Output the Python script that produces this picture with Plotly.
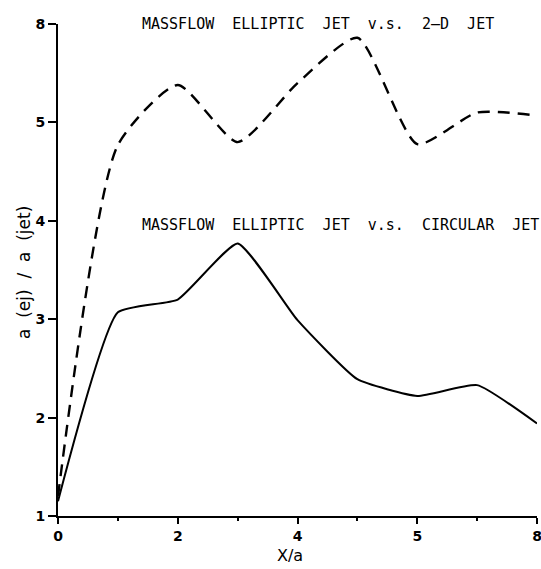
import plotly.graph_objects as go

# Distance downstream, X/a
x_pos = [0, 1, 2, 3, 4, 5, 6, 7, 8]

# Mass-flow ratio, elliptic jet vs 2-D jet (dashed)
ratio_2d = [1.2, 4.77, 5.38, 4.80, 5.40, 5.86, 4.78, 5.10, 5.07]

# Mass-flow ratio, elliptic jet vs circular jet (solid)
ratio_circ = [1.15, 3.07, 3.20, 3.77, 2.99, 2.39, 2.22, 2.33, 1.94]

x_tickvals = [0, 2, 4, 6, 8]
x_ticktext = ["0", "2", "4", "5", "8"]
y_tickvals = [1, 2, 3, 4, 5, 6]
y_ticktext = ["1", "2", "3", "4", "5", "8"]

sp = "&nbsp; "
label_2d = sp.join(["MASSFLOW", "ELLIPTIC", "JET", "v.s.", "2\u2013D", "JET"])
label_circ = sp.join(["MASSFLOW", "ELLIPTIC", "JET", "v.s.", "CIRCULAR", "JET"])
y_title = sp.join(["a", "(ej)", "/", "a", "(jet)"])

font_main = "DejaVu Sans, Verdana, sans-serif"
font_label = "DejaVu Sans Mono, monospace"

fig = go.Figure()
fig.add_trace(go.Scatter(
    x=x_pos, y=ratio_2d, mode="lines",
    line=dict(color="black", width=2.4, dash="12px,8px", shape="spline", smoothing=0.6),
    showlegend=False, cliponaxis=False,
))
fig.add_trace(go.Scatter(
    x=x_pos, y=ratio_circ, mode="lines",
    line=dict(color="black", width=2, shape="spline", smoothing=0.45),
    showlegend=False, cliponaxis=False,
))

fig.add_annotation(x=(140 - 58) / 479, y=1.0, xref="paper", yref="paper", text=label_2d,
                   showarrow=False, xanchor="left", yanchor="middle",
                   font=dict(family=font_label, size=15, color="black"))
fig.add_annotation(x=(140 - 58) / 479, y=(516 - 225) / 492, xref="paper", yref="paper",
                   text=label_circ, showarrow=False, xanchor="left", yanchor="middle",
                   font=dict(family=font_label, size=15, color="black"))
fig.add_annotation(x=(24 - 58) / 479, y=(516 - 273) / 492, xref="paper", yref="paper",
                   text=y_title, showarrow=False, textangle=-90,
                   xanchor="center", yanchor="middle",
                   font=dict(family=font_main, size=17, color="black"))
fig.add_annotation(x=(290 - 58) / 479, y=(516 - 555) / 492, xref="paper", yref="paper",
                   text="X/a", showarrow=False, xanchor="center", yanchor="middle",
                   font=dict(family=font_main, size=16, color="black"))

fig.update_xaxes(
    range=[0, 8], tickvals=x_tickvals, ticktext=x_ticktext,
    showline=True, linecolor="black", linewidth=2, mirror=False,
    ticks="outside", ticklen=6, tickwidth=1.5, tickcolor="black",
    minor=dict(tickvals=[1, 3, 5, 7], ticks="outside", ticklen=3, tickwidth=1.5, tickcolor="black"),
    showgrid=False, zeroline=False, ticklabeloverflow="allow", automargin=False,
    tickfont=dict(family=font_main, size=14, color="black", weight="bold"),
)
fig.update_yaxes(
    range=[1, 6], tickvals=y_tickvals, ticktext=y_ticktext,
    showline=True, linecolor="black", linewidth=2, mirror=False,
    ticks="outside", ticklen=8, tickwidth=1.5, tickcolor="black",
    showgrid=False, zeroline=False, automargin=False,
    tickfont=dict(family=font_main, size=14, color="black", weight="bold"),
)

fig.update_layout(
    width=541, height=569,
    margin=dict(l=58, r=4, t=24, b=53),
    paper_bgcolor="white", plot_bgcolor="white",
)

fig.write_html("out.html")
